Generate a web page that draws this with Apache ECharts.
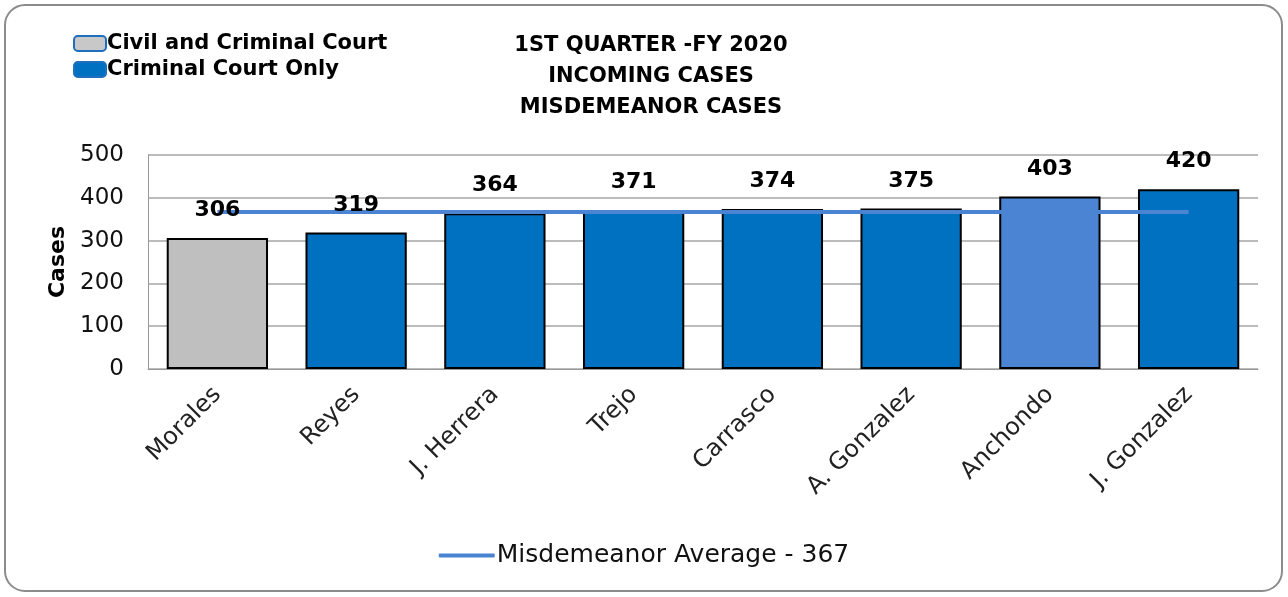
<!DOCTYPE html>
<head>
    <meta charset="utf-8">
    <title>Misdemeanor Cases</title>
</head>
<body style="margin:0">
    <script type="text/javascript" src="https://cdn.jsdelivr.net/npm/echarts@6/dist/echarts.min.js"></script>

    <div id="main" style="width: 1288px;height:597px;"></div>

    <script type="text/javascript">
        var judges = ['Morales', 'Reyes', 'J. Herrera', 'Trejo', 'Carrasco', 'A. Gonzalez', 'Anchondo', 'J. Gonzalez'];
        var civilCriminal = [306, '-', '-', '-', '-', '-', '-', '-'];
        var criminalOnly = ['-', 319, 364, 371, 374, 375, 403, 420];
        var average = [367, 367, 367, 367, 367, 367, 367, 367];
        var yTicks = [0, 100, 200, 300, 400, 500];

        var font = 'DejaVu Sans';
        var myChart = echarts.init(document.getElementById('main'));

        // value labels sit above the average line, so they get their own top layer
        var labelValues = judges.map(function (j, i) {
            return civilCriminal[i] !== '-' ? civilCriminal[i] : criminalOnly[i];
        });

        myChart.setOption({
            animation: false,
            backgroundColor: '#fff',
            graphic: [{
                type: 'rect',
                shape: { x: 5, y: 5, width: 1277, height: 586, r: 20 },
                style: { fill: 'none', stroke: '#8c8c8c', lineWidth: 2 }
            }],
            title: {
                text: '1ST QUARTER -FY 2020\nINCOMING CASES\nMISDEMEANOR CASES',
                left: 646,
                textAlign: 'center',
                top: 25,
                textStyle: {
                    fontFamily: font,
                    fontWeight: 'bold',
                    fontSize: 21,
                    lineHeight: 31,
                    color: '#000'
                }
            },
            legend: [
                {
                    data: [
                        { name: 'Civil and Criminal Court', itemStyle: { color: '#c8c8c8', borderColor: '#1f6fc0', borderWidth: 2 } },
                        { name: 'Criminal Court Only', itemStyle: { color: '#0070c0', borderColor: '#1f6fc0', borderWidth: 2 } }
                    ],
                    orient: 'vertical',
                    left: 68,
                    top: 28,
                    itemGap: 5,
                    itemWidth: 32,
                    itemHeight: 15,
                    textStyle: { fontFamily: font, fontWeight: 'bold', fontSize: 21, color: '#000', padding: [0, 0, 0, -4] }
                },
                {
                    data: [{ name: 'Misdemeanor Average - 367', icon: 'roundRect' }],
                    bottom: 24,
                    left: 'center',
                    itemWidth: 56,
                    itemHeight: 4,
                    itemGap: 5,
                    textStyle: { fontFamily: font, fontSize: 25, color: '#111', padding: [0, 0, 0, -3] }
                }
            ],
            grid: { left: 148, right: 30, top: 155, bottom: 228 },
            xAxis: {
                type: 'category',
                data: judges,
                axisLine: { lineStyle: { color: '#999' } },
                axisTick: { show: false },
                axisLabel: {
                    rotate: 45,
                    interval: 0,
                    margin: 22,
                    fontFamily: font,
                    fontSize: 24,
                    color: '#222'
                }
            },
            yAxis: {
                type: 'value',
                min: yTicks[0],
                max: yTicks[yTicks.length - 1],
                interval: 100,
                name: 'Cases',
                nameLocation: 'middle',
                nameGap: 78,
                nameTextStyle: { fontFamily: font, fontWeight: 'bold', fontSize: 22, color: '#000' },
                axisLine: { show: true, lineStyle: { color: '#999' } },
                splitLine: { lineStyle: { color: '#a6a6a6', width: 1.5 } },
                axisLabel: { fontFamily: font, fontSize: 23, color: '#111', margin: 24 }
            },
            series: [
                {
                    name: 'Civil and Criminal Court',
                    type: 'bar',
                    stack: 'cases',
                    barWidth: '73%',
                    data: civilCriminal,
                    itemStyle: { color: '#bfbfbf', borderColor: '#000', borderWidth: 2 }
                },
                {
                    name: 'Criminal Court Only',
                    type: 'bar',
                    stack: 'cases',
                    barWidth: '73%',
                    data: criminalOnly.map(function (v, i) {
                        return judges[i] === 'Anchondo'
                            ? { value: v, itemStyle: { color: '#4a84d2' } }
                            : v;
                    }),
                    itemStyle: { color: '#0070c0', borderColor: '#000', borderWidth: 2 }
                },
                {
                    name: 'Misdemeanor Average - 367',
                    type: 'line',
                    data: average,
                    symbol: 'none',
                    z: 5,
                    lineStyle: { color: '#4a84d2', width: 4 },
                    itemStyle: { color: '#4a84d2' }
                },
                {
                    name: 'values',
                    type: 'scatter',
                    data: labelValues,
                    symbolSize: 1,
                    z: 10,
                    silent: true,
                    itemStyle: { color: 'rgba(0,0,0,0)', opacity: 1 },
                    label: {
                        show: true,
                        position: 'top',
                        distance: 16,
                        fontFamily: font,
                        fontWeight: 'bold',
                        fontSize: 22,
                        color: '#000'
                    }
                }
            ]
        });
    </script>
</body>
